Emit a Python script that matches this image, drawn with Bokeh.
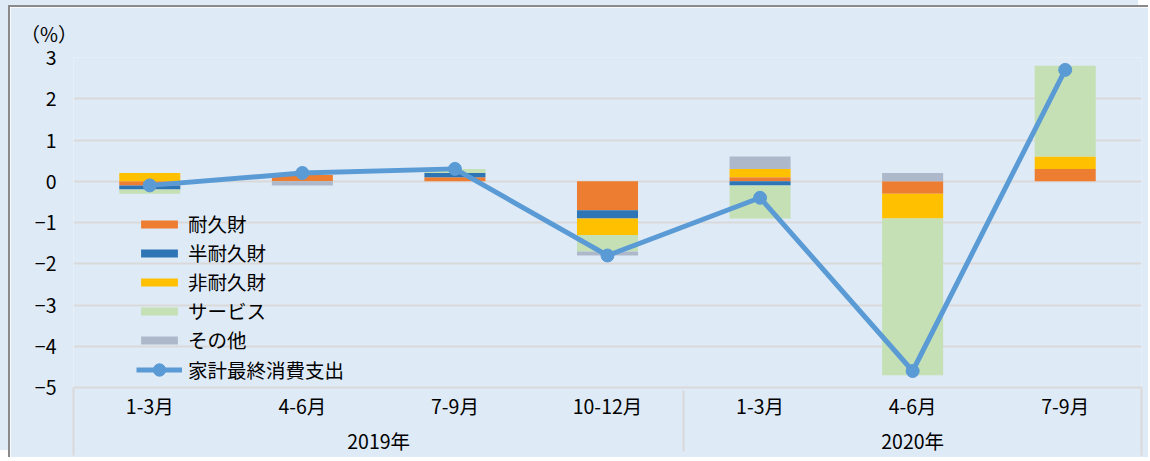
from bokeh.plotting import figure
from bokeh.models import (FactorRange, Range1d, Legend, LegendItem, Label, FixedTicker,
                          LinearAxis)
from bokeh.embed import file_html
from bokeh.resources import INLINE

# ---------------- data ----------------
years = ["2019年", "2019年", "2019年", "2019年", "2020年", "2020年", "2020年"]
quarters = ["1-3月", "4-6月", "7-9月", "10-12月", "1-3月", "4-6月", "7-9月"]

series_names = ["耐久財", "半耐久財", "非耐久財", "サービス", "その他"]
durable = [-0.1, 0.15, 0.1, -0.7, 0.1, -0.3, 0.3]
semi_durable = [-0.1, 0.0, 0.1, -0.2, -0.1, 0.0, 0.0]
non_durable = [0.2, 0.0, 0.0, -0.4, 0.2, -0.6, 0.3]
services = [-0.1, 0.0, 0.1, -0.4, -0.8, -3.8, 2.2]
others = [0.0, -0.1, 0.0, -0.1, 0.3, 0.2, 0.0]

total_name = "家計最終消費支出"
total = [-0.1, 0.2, 0.3, -1.8, -0.4, -4.6, 2.7]

y_ticks = [-5, -4, -3, -2, -1, 0, 1, 2, 3]
y_tick_labels = ["−5", "−4", "−3", "−2", "−1", "0", "1", "2", "3"]
unit_label = "（%）"

# ---------------- style ----------------
series_colors = ["#ED7D31", "#2E75B6", "#FFC000", "#C5E0B4", "#ADB9CA"]
line_color = "#5B9BD5"
bg = "#DEEAF6"
grid_color = "#D9D9D9"
FONT = "Noto Sans CJK JP"
FS = "19.5px"
FRAME_W, FRAME_H = 1068, 330

factors = list(zip(years, quarters))
x_range = FactorRange(*factors, factor_padding=0, group_padding=0, range_padding=0)
y_lo, y_hi = y_ticks[0], y_ticks[-1]

p = figure(
    x_range=x_range, y_range=Range1d(y_lo, y_hi),
    frame_width=FRAME_W, frame_height=FRAME_H,
    min_border_left=63, min_border_right=7, min_border_top=50, min_border_bottom=70,
    output_backend="svg", toolbar_location=None,
    background_fill_color=bg, border_fill_color=bg, outline_line_color=None,
    styles={"margin-left": "8px", "margin-top": "5px",
            "border-left": "2px solid #8a8a8a", "border-top": "2px solid #8a8a8a",
            "box-shadow": "-10px -7px 0 0 #DEEAF6"},
)

# stacked bars (positives up, negatives down, like Excel)
series_values = [durable, semi_durable, non_durable, services, others]
pos = [0.0] * len(factors)
neg = [0.0] * len(factors)
bar_renderers = []
for name, vals, color in zip(series_names, series_values, series_colors):
    bottoms, tops = [], []
    for i, v in enumerate(vals):
        if v >= 0:
            bottoms.append(pos[i]); tops.append(pos[i] + v); pos[i] += v
        else:
            tops.append(neg[i]); bottoms.append(neg[i] + v); neg[i] += v
    r = p.vbar(x=factors, bottom=bottoms, top=tops, width=0.4,
               fill_color=color, line_color=None)
    bar_renderers.append(r)

lr = p.line(x=factors, y=total, line_color=line_color, line_width=5)
sr = p.scatter(x=factors, y=total, marker="circle", size=13,
               fill_color=line_color, line_color=line_color)

# category axis
xa = p.xaxis[0]
xa.axis_line_color = grid_color
xa.axis_line_width = 2
xa.major_tick_line_color = None
xa.minor_tick_line_color = None
xa.major_tick_out = 0
xa.major_tick_in = 0
xa.major_label_text_font = FONT
xa.major_label_text_font_size = FS
xa.major_label_text_color = "#000000"
xa.major_label_standoff = 3
xa.group_text_font = FONT
xa.group_text_font_size = FS
xa.group_text_font_style = "normal"
xa.group_text_color = "#000000"
xa.separator_line_color = grid_color
xa.separator_line_width = 2
p.xgrid.grid_line_color = None

# outer edges of the category-axis box: ticks at both range ends, drawn outward
edge_ticks = [0, len(factors)]
edge_axis = LinearAxis(ticker=FixedTicker(ticks=edge_ticks),
                       axis_line_color=None, major_tick_line_color=grid_color,
                       major_tick_line_width=2, major_tick_in=-68, major_tick_out=0,
                       minor_tick_line_color=None, minor_tick_out=0, minor_tick_in=0,
                       major_label_overrides={t: "" for t in edge_ticks},
                       major_label_text_font_size="0px", major_label_standoff=0)
p.below = [edge_axis] + list(p.below)

# value axis
ya = p.yaxis[0]
ya.ticker = FixedTicker(ticks=y_ticks)
ya.major_label_overrides = {t: l for t, l in zip(y_ticks, y_tick_labels)}
ya.axis_line_color = None
ya.major_tick_line_color = None
ya.minor_tick_line_color = None
ya.major_tick_out = 0
ya.major_tick_in = 0
ya.major_label_text_font = FONT
ya.major_label_text_font_size = FS
ya.major_label_text_color = "#000000"
ya.major_label_standoff = 17
p.ygrid.ticker = FixedTicker(ticks=y_ticks)
p.ygrid.grid_line_color = grid_color
p.ygrid.grid_line_width = 2

# unit label above the value axis
per_px = (y_hi - y_lo) / FRAME_H
p.add_layout(Label(x=-53 * len(factors) / FRAME_W, y=y_hi + 24 * per_px, text=unit_label,
                   text_baseline="middle", text_font=FONT, text_font_size=FS,
                   text_color="#000000"), "above")

# legends
common = dict(padding=0, margin=0, spacing=0, glyph_width=46, label_standoff=6,
              background_fill_alpha=0, border_line_color=None,
              label_text_font=FONT, label_text_font_size=FS, label_text_color="#000000")
bar_items = [LegendItem(label=n, renderers=[r]) for n, r in zip(series_names, bar_renderers)]
p.add_layout(Legend(items=bar_items, location=(63, 33), glyph_height=10, label_height=29,
                    **common))
p.add_layout(Legend(items=[LegendItem(label=total_name, renderers=[lr, sr])],
                    location=(63, 2), glyph_height=31, label_height=29, **common))

open("out.html", "w").write(file_html(p, INLINE))
